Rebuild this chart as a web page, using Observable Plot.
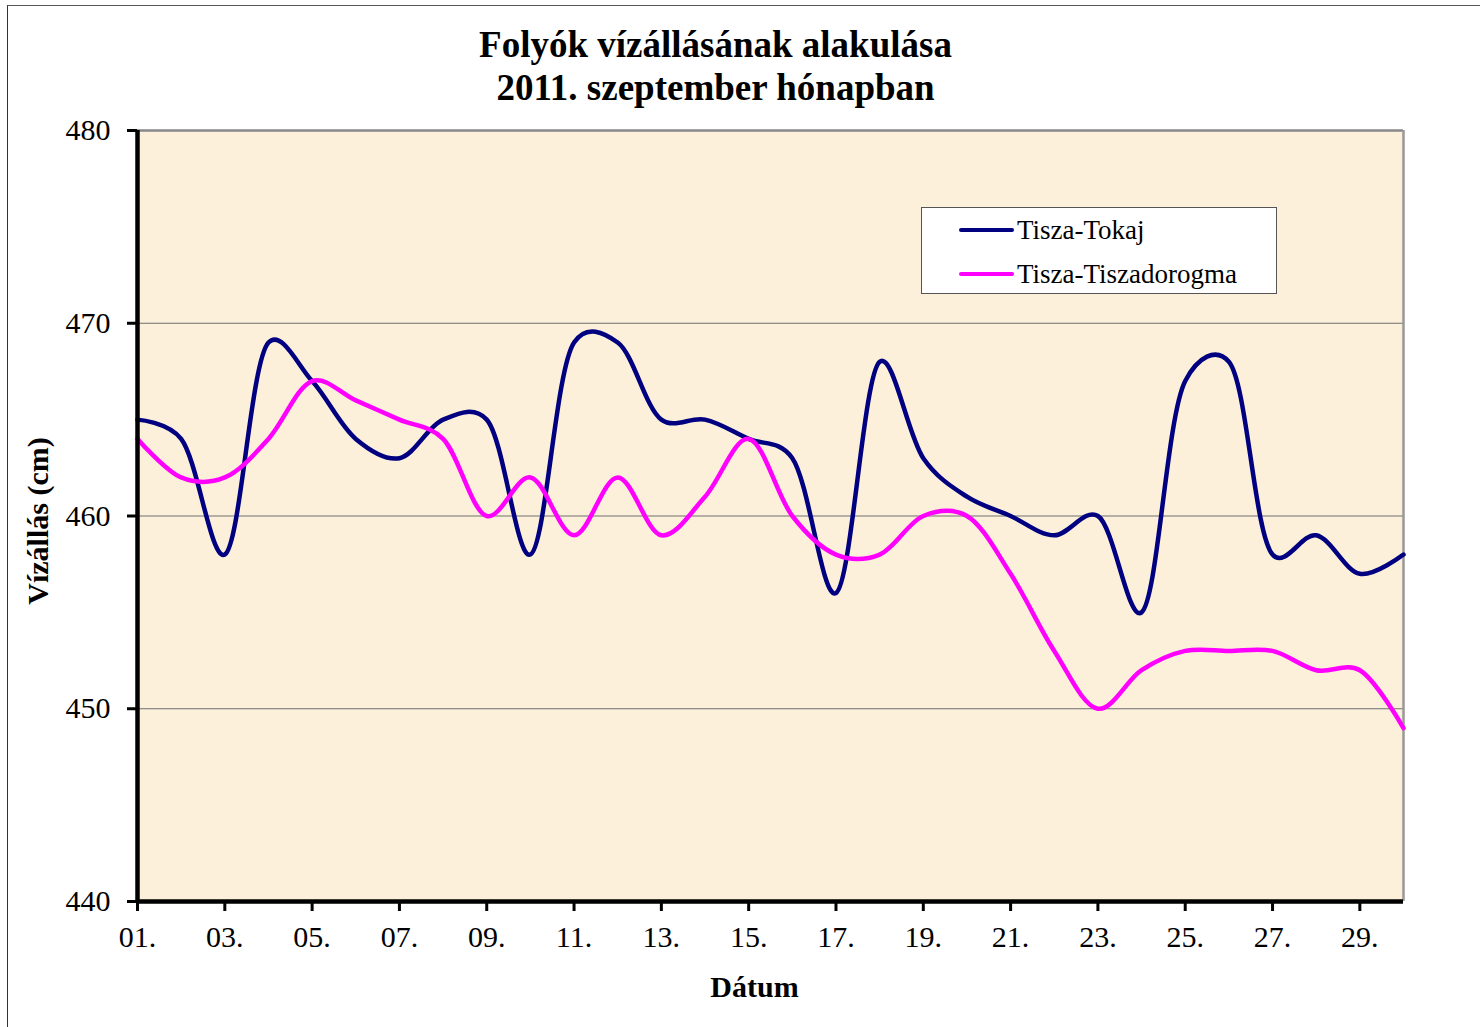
<!DOCTYPE html>
<html>
<head>
<meta charset="utf-8">
<script src="https://cdn.jsdelivr.net/npm/d3@7"></script>
<script src="https://cdn.jsdelivr.net/npm/@observablehq/plot@0.6"></script>
<style>
  html, body { margin: 0; padding: 0; background: #fff; overflow: hidden; }
  #wrap { position: relative; width: 1480px; height: 1027px; }
  #border { position: absolute; left: 7px; top: 5px; width: 1490px; height: 1040px;
            border-left: 1px solid #333; border-top: 1px solid #555; pointer-events: none; }
  #legend { position: absolute; left: 921px; top: 207px; width: 354px; height: 85px;
            background: #fff; border: 1px solid #555;
            font-family: "Liberation Serif", "Times New Roman", serif; font-size: 27px; color: #000; }
  .row { position: absolute; left: 37px; display: flex; align-items: center; height: 30px; }
  .sw { width: 55px; height: 4px; border-radius: 2px; margin-right: 3px; }
</style>
</head>
<body>
<div id="wrap"><div id="border"></div></div>
<script>
const days = [1,2,3,4,5,6,7,8,9,10,11,12,13,14,15,16,17,18,19,20,21,22,23,24,25,26,27,28,29,30];
const tokaj = [465,464,458,469,467,464,463,465,465,458,469,469,465,465,464,463,456,468,463,461,460,459,460,455,467,468,458,459,457,458];
const tiszadorogma = [464,462,462,464,467,466,465,464,460,462,459,462,459,461,464,460,458,458,460,460,457,453,450,452,453,453,453,452,452,449];
const seriesNames = ["Tisza-Tokaj", "Tisza-Tiszadorogma"];
const seriesColors = ["#000080", "#FF00FF"];
const xTicks = [1,3,5,7,9,11,13,15,17,19,21,23,25,27,29];
const xTickLabels = ["01.","03.","05.","07.","09.","11.","13.","15.","17.","19.","21.","23.","25.","27.","29."];
const yTicks = [440,450,460,470,480];
const gridValues = [450,460,470];
const titleLines = ["Folyók vízállásának alakulása", "2011. szeptember hónapban"];
const xLabel = "Dátum";
const yLabel = "Vízállás (cm)";

const rows = [];
days.forEach((d, i) => {
  rows.push({day: d, value: tokaj[i], series: seriesNames[0]});
});
days.forEach((d, i) => {
  rows.push({day: d, value: tiszadorogma[i], series: seriesNames[1]});
});
const labelMap = new Map(xTicks.map((t, i) => [t, xTickLabels[i]]));
const font = '"Liberation Serif", "Times New Roman", serif';

const chart = Plot.plot({
  width: 1480,
  height: 1027,
  marginLeft: 137,
  marginRight: 77,
  marginTop: 130,
  marginBottom: 126,
  style: {fontFamily: font, fontSize: "30px", background: "transparent", overflow: "visible", color: "#000"},
  x: {type: "linear", domain: [1, 30]},
  y: {domain: [440, 480]},
  color: {domain: seriesNames, range: seriesColors},
  marks: [
    Plot.frame({fill: "#FCF0DA", stroke: "none"}),
    Plot.ruleY(gridValues, {stroke: "#6e6e6e", strokeWidth: 1}),
    Plot.ruleY([480], {stroke: "#888", strokeWidth: 2.5}),
    Plot.ruleX([30], {stroke: "#999", strokeWidth: 2.5}),
    Plot.line(rows.filter(r => r.series === seriesNames[0]), {x: "day", y: "value", stroke: "series", strokeWidth: 4.5, curve: "catmull-rom", tension: 0.25}),
    Plot.line(rows.filter(r => r.series === seriesNames[1]), {x: "day", y: "value", stroke: "series", strokeWidth: 4.5, curve: "catmull-rom", tension: 0.25}),
    Plot.ruleX([1], {stroke: "#000", strokeWidth: 4.5}),
    Plot.ruleY([440], {stroke: "#000", strokeWidth: 4.5}),
    Plot.axisY(yTicks, {tickSize: 10, tickPadding: 17, strokeWidth: 3, stroke: "#000", fontSize: 30, label: null}),
    Plot.axisX(xTicks, {tickSize: 10, tickPadding: 14, strokeWidth: 3, stroke: "#000", fontSize: 30, label: null, tickFormat: d => labelMap.get(d)}),
    Plot.text([titleLines[0]], {text: d => d, frameAnchor: "top", dx: -55, dy: -100, fontSize: 37, fontWeight: "bold"}),
    Plot.text([titleLines[1]], {text: d => d, frameAnchor: "top", dx: -55, dy: -57, fontSize: 37, fontWeight: "bold"}),
    Plot.text([xLabel], {text: d => d, frameAnchor: "bottom", dx: -16, dy: 95, fontSize: 30, fontWeight: "bold"}),
    Plot.text([yLabel], {text: d => d, frameAnchor: "left", textAnchor: "middle", dx: -99, dy: 5, rotate: -90, fontSize: 30, fontWeight: "bold"})
  ]
});
const wrap = document.getElementById("wrap");
chart.style.position = "absolute";
chart.style.left = "0px";
chart.style.top = "0px";
wrap.insertBefore(chart, wrap.firstChild);

const legend = document.createElement("div");
legend.id = "legend";
seriesNames.forEach((name, i) => {
  const row = document.createElement("div");
  row.className = "row";
  row.style.top = (i === 0 ? 7 : 51) + "px";
  const sw = document.createElement("div");
  sw.className = "sw";
  sw.style.background = seriesColors[i];
  const tx = document.createElement("span");
  tx.textContent = name;
  row.appendChild(sw);
  row.appendChild(tx);
  legend.appendChild(row);
});
wrap.appendChild(legend);
</script>
</body>
</html>
